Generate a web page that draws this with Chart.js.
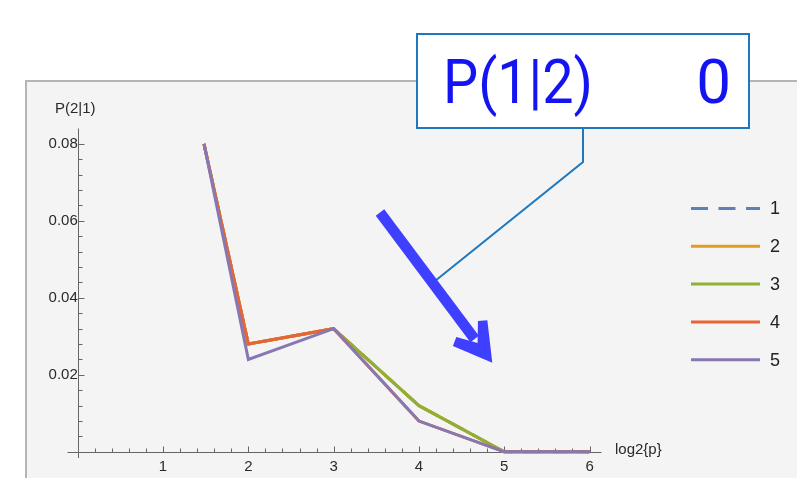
<!DOCTYPE html>
<html>
<head>
<meta charset="utf-8">
<script src="https://cdn.jsdelivr.net/npm/chart.js@4.4.1/dist/chart.umd.min.js"></script>
<style>
  html, body { margin: 0; padding: 0; background: #fff; }
  canvas { display: block; }
</style>
</head>
<body>
<canvas id="chart" width="797" height="478"></canvas>
<script>
// Data
const xValues = [1.48, 2, 3, 4, 5, 6];
const series1 = [0.080, 0.028, 0.032, 0.012, 0, 0];
const series2 = [0.080, 0.028, 0.032, 0.012, 0, 0];
const series3 = [0.080, 0.028, 0.032, 0.012, 0, 0];
const series4 = [0.080, 0.028, 0.032, 0.008, 0, 0];
const series5 = [0.080, 0.024, 0.032, 0.008, 0, 0];
const seriesLabels = ['1', '2', '3', '4', '5'];
const seriesColors = ['#5e81b5', '#e19c24', '#8fb032', '#eb6235', '#8778b3'];
const xTicks = [1, 2, 3, 4, 5, 6];
const yTicks = [0.02, 0.04, 0.06, 0.08];

const allSeries = [series1, series2, series3, series4, series5];

const font = '"Liberation Sans", Arial, sans-serif';

/**
 * Panel background, like the notebook frame
 */
const panelBg = {
    id: 'panelBg',
    beforeDraw(chart) {
        const ctx = chart.ctx;
        ctx.save();
        ctx.fillStyle = '#ffffff';
        ctx.fillRect(0, 0, chart.width, chart.height);
        ctx.fillStyle = '#f4f4f4';
        ctx.fillRect(26, 81, 800, 420);
        ctx.strokeStyle = '#b5b5b5';
        ctx.lineWidth = 2;
        ctx.strokeRect(26, 81, 800, 420);
        ctx.restore();
    }
};

/**
 * Axes crossing at the origin, ticks pointing inward
 */
const crossAxes = {
    id: 'crossAxes',
    beforeDatasetsDraw(chart) {
        const {ctx, chartArea: a, scales: {x, y}} = chart;
        const x0 = Math.round(x.getPixelForValue(0)) + 0.5;
        const y0 = Math.round(y.getPixelForValue(0)) + 0.5;
        ctx.save();
        ctx.strokeStyle = '#666';
        ctx.lineWidth = 1;
        ctx.beginPath();
        ctx.moveTo(a.left, y0);
        ctx.lineTo(a.right, y0);
        ctx.moveTo(x0, a.top);
        ctx.lineTo(x0, a.bottom);
        // x ticks every 0.2
        for (let i = 1; i <= 30; i++) {
            const px = Math.round(x.getPixelForValue(i * 0.2)) + 0.5;
            const len = i % 5 === 0 ? 6 : 4;
            ctx.moveTo(px, y0);
            ctx.lineTo(px, y0 - len);
        }
        // y ticks every 0.004
        for (let i = 1; i <= 20; i++) {
            const py = Math.round(y.getPixelForValue(i * 0.004)) + 0.5;
            const len = i % 5 === 0 ? 6 : 4;
            ctx.moveTo(x0, py);
            ctx.lineTo(x0 + len, py);
        }
        ctx.stroke();

        // axis labels
        ctx.fillStyle = '#2a2a2a';
        ctx.font = '15px ' + font;
        ctx.textBaseline = 'middle';
        ctx.textAlign = 'left';
        ctx.fillText('P(2|1)', 55, 109);
        ctx.fillText('log2{p}', 615, 450);
        ctx.restore();
    }
};

/**
 * Legend on the right, drawn from the datasets
 */
const sideLegend = {
    id: 'sideLegend',
    afterDatasetsDraw(chart) {
        const ctx = chart.ctx;
        ctx.save();
        chart.data.datasets.forEach((ds, i) => {
            const ly = 208.5 + i * 37.8;
            ctx.strokeStyle = ds.borderColor;
            ctx.lineWidth = 3;
            ctx.setLineDash(ds.legendDash || []);
            ctx.beginPath();
            ctx.moveTo(691, ly);
            ctx.lineTo(760, ly);
            ctx.stroke();
            ctx.setLineDash([]);
            ctx.fillStyle = '#222';
            ctx.font = '18px ' + font;
            ctx.textBaseline = 'middle';
            ctx.fillText(ds.label, 770, ly + 1);
        });
        ctx.restore();
    }
};

/**
 * Callout box, its leader line and the big arrow
 */
const callout = {
    id: 'callout',
    afterDraw(chart) {
        const ctx = chart.ctx;
        ctx.save();

        // leader line
        ctx.strokeStyle = '#1f78be';
        ctx.lineWidth = 2;
        ctx.beginPath();
        ctx.moveTo(583, 128);
        ctx.lineTo(583, 162);
        ctx.lineTo(435, 281);
        ctx.stroke();

        // arrow
        const sx = 380, sy = 212.5, tx = 492.3, ty = 362.7;
        const len = Math.hypot(tx - sx, ty - sy);
        const ux = (tx - sx) / len, uy = (ty - sy) / len;
        const px = uy, py = -ux;
        const pt = (a, p) => [sx + ux * a + px * p, sy + uy * a + py * p];
        ctx.fillStyle = '#3f3fff';
        ctx.beginPath();
        [pt(0, 5.3), pt(158, 5.3), pt(158, -5.3), pt(0, -5.3)].forEach((p, i) => i ? ctx.lineTo(p[0], p[1]) : ctx.moveTo(p[0], p[1]));
        ctx.closePath();
        ctx.fill();
        ctx.beginPath();
        [pt(len, 0), pt(150.5, 21.5), pt(145.5, 13.5), pt(163, 0), pt(145.5, -13.5), pt(150.5, -21.5)]
            .forEach((p, i) => i ? ctx.lineTo(p[0], p[1]) : ctx.moveTo(p[0], p[1]));
        ctx.closePath();
        ctx.fill();

        // box
        ctx.fillStyle = '#ffffff';
        ctx.fillRect(417, 34, 332, 94);
        ctx.strokeStyle = '#1f78be';
        ctx.lineWidth = 2;
        ctx.strokeRect(417, 34, 332, 94);
        ctx.fillStyle = '#1414f2';
        ctx.font = '62px Roboto, sans-serif';
        ctx.textBaseline = 'alphabetic';
        ctx.textAlign = 'left';
        ctx.fillText('P(1|2)', 443, 103, 150);
        ctx.textAlign = 'right';
        ctx.fillText('0', 731, 103);
        ctx.restore();
    }
};

const datasets = allSeries.map((values, i) => ({
    label: seriesLabels[i],
    data: xValues.map((xv, j) => ({x: xv, y: values[j]})),
    borderColor: seriesColors[i],
    backgroundColor: seriesColors[i],
    borderWidth: 3,
    borderDash: i === 0 ? [17, 10.5] : [],
    legendDash: i === 0 ? [17, 10.5] : [],
    pointRadius: 0,
    tension: 0,
    fill: false,
    order: allSeries.length - i // later series on top
}));

new Chart(document.getElementById('chart'), {
    type: 'line',
    data: { datasets },
    options: {
        responsive: false,
        devicePixelRatio: 1,
        animation: false,
        layout: {
            padding: { left: 67.5, right: 195.5, top: 128.5, bottom: 20 }
        },
        plugins: {
            legend: { display: false },
            tooltip: { enabled: false }
        },
        scales: {
            x: {
                type: 'linear',
                position: { y: 0 },
                min: -0.12,
                max: 6.14,
                afterBuildTicks: s => { s.ticks = xTicks.map(v => ({ value: v })); },
                grid: { display: false, drawTicks: false },
                border: { display: false },
                ticks: {
                    padding: 6,
                    color: '#2a2a2a',
                    font: { family: font, size: 15 },
                    maxRotation: 0,
                    callback: v => String(v)
                }
            },
            y: {
                type: 'linear',
                position: { x: 0 },
                min: -0.0016,
                max: 0.084,
                afterBuildTicks: s => { s.ticks = yTicks.map(v => ({ value: v })); },
                grid: { display: false, drawTicks: false },
                border: { display: false },
                ticks: {
                    padding: 7,
                    color: '#2a2a2a',
                    font: { family: font, size: 15 },
                    callback: v => v.toFixed(2)
                }
            }
        }
    },
    plugins: [panelBg, crossAxes, sideLegend, callout]
});
</script>
</body>
</html>
